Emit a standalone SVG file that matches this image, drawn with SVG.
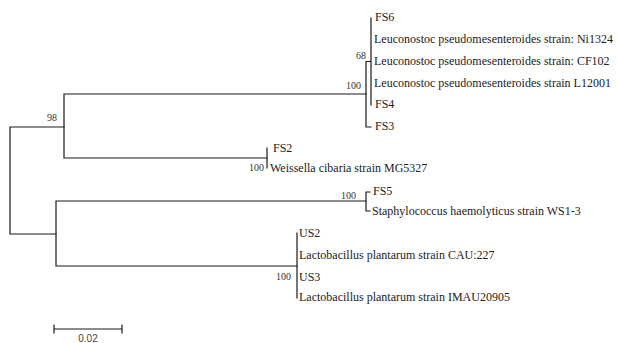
<svg xmlns="http://www.w3.org/2000/svg" width="617" height="343" viewBox="0 0 617 343">
<style>
.b{fill:none;stroke:#1a1a1a;stroke-width:1.2;stroke-linecap:square}
.t{font-family:"Liberation Serif","Times New Roman",serif;font-size:12px;fill:#222}
.bs{font-family:"Liberation Serif","Times New Roman",serif;font-size:10px;fill:#333;text-anchor:end}
.sc{font-family:"Liberation Sans",Arial,sans-serif;font-size:10px;fill:#444;text-anchor:middle}
</style>
<rect width="617" height="343" fill="#fff"/>
<g id="connectors">
<path class="b" d="M10,127 V234 M10,127 H64 M10,234 H56"/>
<path class="b" d="M64,94 V158 M64,94 H366 M64,158 H267"/>
<path class="b" d="M366,61.5 V127 M366,61.5 H371 M366,127 H371 M371,18 V105"/>
<path class="b" d="M267,148 V168"/>
<path class="b" d="M56,201 V266 M56,201 H366 M56,266 H297"/>
<path class="b" d="M366,192 V211 M366,192 H370 M366,211 H370"/>
<path class="b" d="M297,233 V298"/>
</g>
<g id="bootstrap">
<text class="bs" x="57" y="121">98</text>
<text class="bs" x="366" y="59">68</text>
<text class="bs" x="361" y="89">100</text>
<text class="bs" x="264" y="171">100</text>
<text class="bs" x="356" y="199">100</text>
<text class="bs" x="291" y="280">100</text>
</g>
<g id="FS6"><text class="t" x="375" y="21">FS6</text></g>
<g id="Ni1324"><text class="t" x="374" y="43">Leuconostoc pseudomesenteroides strain: Ni1324</text></g>
<g id="CF102"><text class="t" x="374" y="65">Leuconostoc pseudomesenteroides strain: CF102</text></g>
<g id="L12001"><text class="t" x="374" y="87">Leuconostoc pseudomesenteroides strain L12001</text></g>
<g id="FS4"><text class="t" x="375" y="108">FS4</text></g>
<g id="FS3"><text class="t" x="375" y="130">FS3</text></g>
<g id="FS2"><text class="t" x="273" y="152">FS2</text></g>
<g id="MG5327"><text class="t" x="270" y="172">Weissella cibaria strain MG5327</text></g>
<g id="FS5"><text class="t" x="373" y="195">FS5</text></g>
<g id="WS1-3"><text class="t" x="372" y="215">Staphylococcus haemolyticus strain WS1-3</text></g>
<g id="US2"><text class="t" x="299" y="237">US2</text></g>
<g id="CAU227"><text class="t" x="299" y="259">Lactobacillus plantarum strain CAU:227</text></g>
<g id="US3"><text class="t" x="299" y="281">US3</text></g>
<g id="IMAU20905"><text class="t" x="299" y="301">Lactobacillus plantarum strain IMAU20905</text></g>
<g id="scale">
<path class="b" stroke="#444" d="M54,329 H122 M54,325 V333 M122,325 V333"/>
<text class="sc" x="88" y="342">0.02</text>
</g>
</svg>
